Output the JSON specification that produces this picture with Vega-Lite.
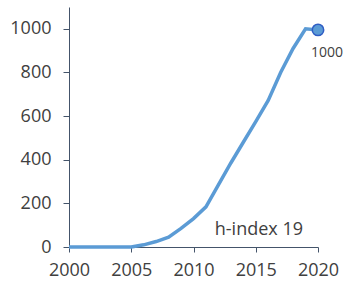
{
  "$schema": "https://vega.github.io/schema/vega-lite/v6.json",
  "width": 249,
  "height": 240,
  "autosize": {"type": "none"},
  "padding": {"left": 69, "top": 7, "right": 30, "bottom": 42},
  "config": {"view": {"stroke": null}, "font": "Open Sans"},
  "datasets": {
    "series": [
      {"year": 2000, "v": 0}, {"year": 2001, "v": 0}, {"year": 2002, "v": 0},
      {"year": 2003, "v": 0}, {"year": 2004, "v": 0}, {"year": 2005, "v": 0},
      {"year": 2006, "v": 10}, {"year": 2007, "v": 25}, {"year": 2008, "v": 45},
      {"year": 2009, "v": 85}, {"year": 2010, "v": 130}, {"year": 2011, "v": 184},
      {"year": 2012, "v": 285}, {"year": 2013, "v": 385}, {"year": 2014, "v": 480},
      {"year": 2015, "v": 575}, {"year": 2016, "v": 672}, {"year": 2017, "v": 800},
      {"year": 2018, "v": 910}, {"year": 2019, "v": 1000}, {"year": 2020, "v": 995}
    ],
    "last": [{"year": 2020, "v": 995, "label": "1000"}],
    "note": [{"year": 2015.25, "v": 78, "label": "h-index 19"}]
  },
  "layer": [
    {
      "data": {"name": "series"},
      "mark": {"type": "line", "color": "#5b9bd5", "strokeWidth": 3.5},
      "encoding": {
        "x": {
          "field": "year", "type": "quantitative",
          "scale": {"domain": [2000, 2020], "nice": false, "zero": false},
          "axis": {
            "title": null, "values": [2000, 2005, 2010, 2015, 2020], "format": "d",
            "grid": false, "domainColor": "#44546a", "tickColor": "#44546a",
            "tickSize": 5, "labelFontSize": 18, "labelColor": "#404040",
            "labelPadding": 9, "labelFont": "Open Sans", "labelFlush": false
          }
        },
        "y": {
          "field": "v", "type": "quantitative",
          "scale": {"domain": [0, 1100], "nice": false},
          "axis": {
            "title": null, "values": [0, 200, 400, 600, 800, 1000], "format": "d",
            "grid": false, "domainColor": "#44546a", "tickColor": "#44546a",
            "tickSize": 6, "labelFontSize": 18, "labelColor": "#404040",
            "labelPadding": 12, "labelFont": "Open Sans", "labelFlush": false
          }
        }
      }
    },
    {
      "data": {"name": "last"},
      "mark": {"type": "point", "filled": true, "shape": "circle", "size": 130, "fill": "#5b9bd5", "stroke": "#2f5dc4", "strokeWidth": 1.5, "opacity": 1},
      "encoding": {
        "x": {"field": "year", "type": "quantitative"},
        "y": {"field": "v", "type": "quantitative"}
      }
    },
    {
      "data": {"name": "last"},
      "mark": {"type": "text", "fontSize": 14, "color": "#404040", "dy": 23, "dx": 9, "font": "Open Sans"},
      "encoding": {
        "x": {"field": "year", "type": "quantitative"},
        "y": {"field": "v", "type": "quantitative"},
        "text": {"field": "label"}
      }
    },
    {
      "data": {"name": "note"},
      "mark": {"type": "text", "fontSize": 18, "color": "#404040", "font": "Open Sans"},
      "encoding": {
        "x": {"field": "year", "type": "quantitative"},
        "y": {"field": "v", "type": "quantitative"},
        "text": {"field": "label"}
      }
    }
  ]
}
